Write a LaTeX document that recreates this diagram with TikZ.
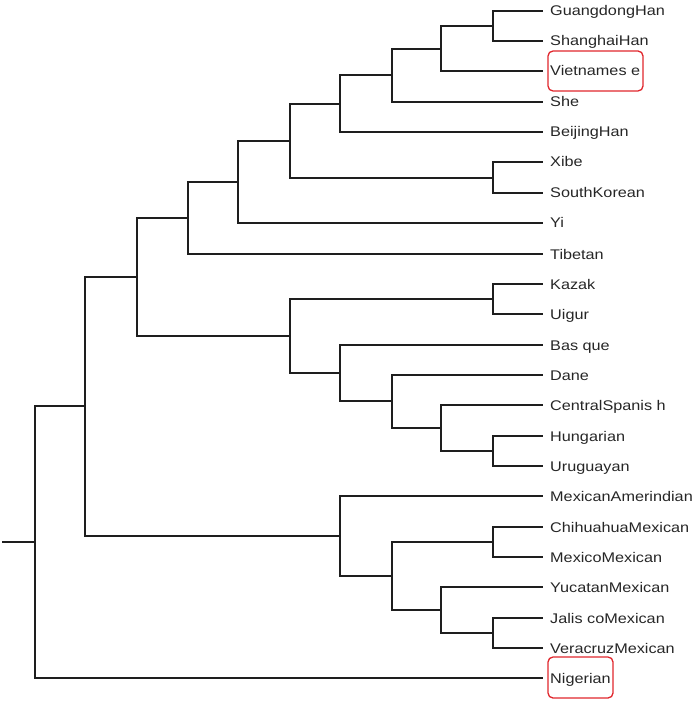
\documentclass[tikz,border=0pt]{standalone}
\usepackage{fontspec}
\setmainfont{Liberation Sans}[FakeStretch=1.16]
\definecolor{linecol}{HTML}{1E1E1E}
\definecolor{textcol}{HTML}{262626}
\definecolor{boxred}{HTML}{E0262C}
\tikzset{
  branch/.style={draw=linecol, line width=1.5pt, line join=miter},
  leaf/.style={anchor=base west, inner sep=0pt, text=textcol, font=\fontsize{14}{16}\selectfont},
  redbox/.style={draw=boxred, line width=1.3pt, rounded corners=5pt}
}
\begin{document}
\begin{tikzpicture}[x=1pt,y=-1pt]
\useasboundingbox (0,0) rectangle (700,703);
% leaf line ends
\coordinate (lGH)  at (543, 11);
\coordinate (lSH)  at (543, 41);
\coordinate (lVi)  at (543, 71);
\coordinate (lShe) at (543,102);
\coordinate (lBH)  at (543,132);
\coordinate (lXi)  at (543,162);
\coordinate (lSK)  at (543,193);
\coordinate (lYi)  at (543,223);
\coordinate (lTi)  at (543,254);
\coordinate (lKa)  at (543,284);
\coordinate (lUi)  at (543,314);
\coordinate (lBa)  at (543,345);
\coordinate (lDa)  at (543,375);
\coordinate (lCS)  at (543,405);
\coordinate (lHu)  at (543,436);
\coordinate (lUr)  at (543,466);
\coordinate (lMA)  at (543,496);
\coordinate (lCh)  at (543,527);
\coordinate (lMM)  at (543,557);
\coordinate (lYu)  at (543,587);
\coordinate (lJa)  at (543,618);
\coordinate (lVe)  at (543,648);
\coordinate (lNi)  at (543,678);
% labels
\node[leaf] (tGH)  at (550, 16) {GuangdongHan};
\node[leaf] (tSH)  at (550, 46) {ShanghaiHan};
\node[leaf] (tVi)  at (550, 76) {Vietnames e};
\node[leaf] (tShe) at (550,107) {She};
\node[leaf] (tBH)  at (550,137) {BeijingHan};
\node[leaf] (tXi)  at (550,167) {Xibe};
\node[leaf] (tSK)  at (550,198) {SouthKorean};
\node[leaf] (tYi)  at (550,228) {Yi};
\node[leaf] (tTi)  at (550,259) {Tibetan};
\node[leaf] (tKa)  at (550,289) {Kazak};
\node[leaf] (tUi)  at (550,319) {Uigur};
\node[leaf] (tBa)  at (550,350) {Bas que};
\node[leaf] (tDa)  at (550,380) {Dane};
\node[leaf] (tCS)  at (550,410) {CentralSpanis h};
\node[leaf] (tHu)  at (550,441) {Hungarian};
\node[leaf] (tUr)  at (550,471) {Uruguayan};
\node[leaf] (tMA)  at (550,501) {MexicanAmerindian};
\node[leaf] (tCh)  at (550,532) {ChihuahuaMexican};
\node[leaf] (tMM)  at (550,562) {MexicoMexican};
\node[leaf] (tYu)  at (550,592) {YucatanMexican};
\node[leaf] (tJa)  at (550,623) {Jalis coMexican};
\node[leaf] (tVe)  at (550,653) {VeracruzMexican};
\node[leaf] (tNi)  at (550,683) {Nigerian};
% internal nodes
\coordinate (a) at (493, 26);
\coordinate (b) at (441, 49);
\coordinate (c) at (392, 75);
\coordinate (d) at (340,104);
\coordinate (e) at (493,178);
\coordinate (f) at (290,141);
\coordinate (g) at (238,182);
\coordinate (h) at (188,218);
\coordinate (i) at (493,299);
\coordinate (j) at (493,451);
\coordinate (k) at (441,428);
\coordinate (l) at (392,401);
\coordinate (m) at (340,373);
\coordinate (n) at (290,336);
\coordinate (o) at (137,277);
\coordinate (p) at (493,542);
\coordinate (q) at (493,633);
\coordinate (r) at (441,610);
\coordinate (s) at (392,576);
\coordinate (t) at (340,536);
\coordinate (u) at ( 85,406);
\coordinate (root) at (35,542);
\coordinate (stub) at (2,542);
% connectors
\draw[branch] (a) |- (lGH);  \draw[branch] (a) |- (lSH);
\draw[branch] (b) |- (a);    \draw[branch] (b) |- (lVi);
\draw[branch] (c) |- (b);    \draw[branch] (c) |- (lShe);
\draw[branch] (d) |- (c);    \draw[branch] (d) |- (lBH);
\draw[branch] (e) |- (lXi);  \draw[branch] (e) |- (lSK);
\draw[branch] (f) |- (d);    \draw[branch] (f) |- (e);
\draw[branch] (g) |- (f);    \draw[branch] (g) |- (lYi);
\draw[branch] (h) |- (g);    \draw[branch] (h) |- (lTi);
\draw[branch] (i) |- (lKa);  \draw[branch] (i) |- (lUi);
\draw[branch] (j) |- (lHu);  \draw[branch] (j) |- (lUr);
\draw[branch] (k) |- (lCS);  \draw[branch] (k) |- (j);
\draw[branch] (l) |- (lDa);  \draw[branch] (l) |- (k);
\draw[branch] (m) |- (lBa);  \draw[branch] (m) |- (l);
\draw[branch] (n) |- (i);    \draw[branch] (n) |- (m);
\draw[branch] (o) |- (h);    \draw[branch] (o) |- (n);
\draw[branch] (p) |- (lCh);  \draw[branch] (p) |- (lMM);
\draw[branch] (q) |- (lJa);  \draw[branch] (q) |- (lVe);
\draw[branch] (r) |- (lYu);  \draw[branch] (r) |- (q);
\draw[branch] (s) |- (p);    \draw[branch] (s) |- (r);
\draw[branch] (t) |- (lMA);  \draw[branch] (t) |- (s);
\draw[branch] (u) |- (o);    \draw[branch] (u) |- (t);
\draw[branch] (root) |- (u); \draw[branch] (root) |- (lNi);
\draw[branch] (stub) -- (root);
% highlight boxes
\draw[redbox] (548,51) rectangle (643,91);
\draw[redbox] (548,657) rectangle (613,698);
\end{tikzpicture}
\end{document}
